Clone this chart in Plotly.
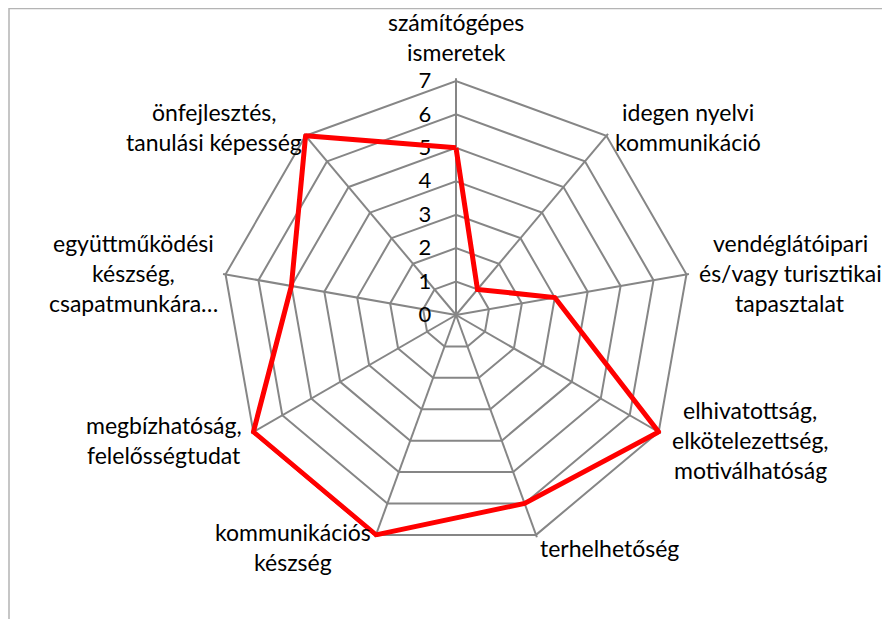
import plotly.graph_objects as go

categories = [
    "számítógépes ismeretek",
    "idegen nyelvi kommunikáció",
    "vendéglátóipari és/vagy turisztikai tapasztalat",
    "elhivatottság, elkötelezettség, motiválhatóság",
    "terhelhetőség",
    "kommunikációs készség",
    "megbízhatóság, felelősségtudat",
    "együttműködési készség, csapatmunkára…",
    "önfejlesztés, tanulási képesség",
]
label_lines = [
    ["számítógépes", "ismeretek"],
    ["idegen nyelvi", "kommunikáció"],
    ["vendéglátóipari", "és/vagy turisztikai", "tapasztalat"],
    ["elhivatottság,", "elkötelezettség,", "motiválhatóság"],
    ["terhelhetőség"],
    ["kommunikációs", "készség"],
    ["megbízhatóság,", "felelősségtudat"],
    ["együttműködési", "készség,", "csapatmunkára…"],
    ["önfejlesztés,", "tanulási képesség"],
]
values = [5, 1, 3, 7, 6, 7, 7, 5, 7]
radial_ticks = [0, 1, 2, 3, 4, 5, 6, 7]

OFF = 8  # page body margin
W, H = 890 - OFF, 619 - OFF
cx, cy, R7 = 456 - OFF, 315 - OFF, 234   # R7 = pixel radius of value 7
RMAX = 7.075                              # small headroom so the thick line is not clipped
R = R7 * RMAX / 7

# label anchor (center x, first line y) in reference pixels
label_pos = [
    (456, 22), (688, 112), (790, 243), (750, 410), (609, 548),
    (293, 532), (164, 425), (133, 243), (214, 112),
]
line_gap = 30

fig = go.Figure()
fig.add_trace(go.Scatterpolar(
    r=values + values[:1],
    theta=categories + categories[:1],
    mode="lines",
    line=dict(color="#ff0000", width=5),
    showlegend=False,
))

grid_col = "#868686"
FONT = "Lato, Calibri, sans-serif"
fig.update_layout(
    width=W, height=H,
    margin=dict(l=0, r=0, t=0, b=0),
    paper_bgcolor="white",
    font=dict(family=FONT, size=23, color="#000000"),
    polar=dict(
        domain=dict(x=[(cx - R) / W, (cx + R) / W],
                    y=[(H - cy - R) / H, (H - cy + R) / H]),
        gridshape="linear",
        bgcolor="white",
        radialaxis=dict(
            range=[0, RMAX], tickvals=radial_ticks, ticktext=[str(v) for v in radial_ticks],
            angle=90, tickangle=90, side="counterclockwise",
            showline=True, linecolor=grid_col, linewidth=2,
            gridcolor=grid_col, gridwidth=1.5,
            ticks="outside", ticklen=16, tickcolor="rgba(0,0,0,0)",
            tickfont=dict(size=22, family=FONT),
            layer="below traces",
        ),
        angularaxis=dict(
            direction="clockwise", rotation=90,
            showticklabels=False, ticks="",
            showline=False,
            gridcolor=grid_col, gridwidth=1.5,
            layer="below traces",
        ),
    ),
)

for (x, y0), lines in zip(label_pos, label_lines):
    for i, t in enumerate(lines):
        fig.add_annotation(
            x=(x - OFF) / W, y=1 - (y0 - OFF + i * line_gap) / H,
            xref="paper", yref="paper",
            text=t, showarrow=False, xanchor="center", yanchor="middle",
            font=dict(size=23),
        )

fig.add_shape(type="rect", xref="paper", yref="paper",
              x0=1 / W, x1=1.2, y0=-0.2, y1=1 - 0.5 / H,
              line=dict(color="#b4b4b4", width=1.5))

fig.write_html("out.html")
